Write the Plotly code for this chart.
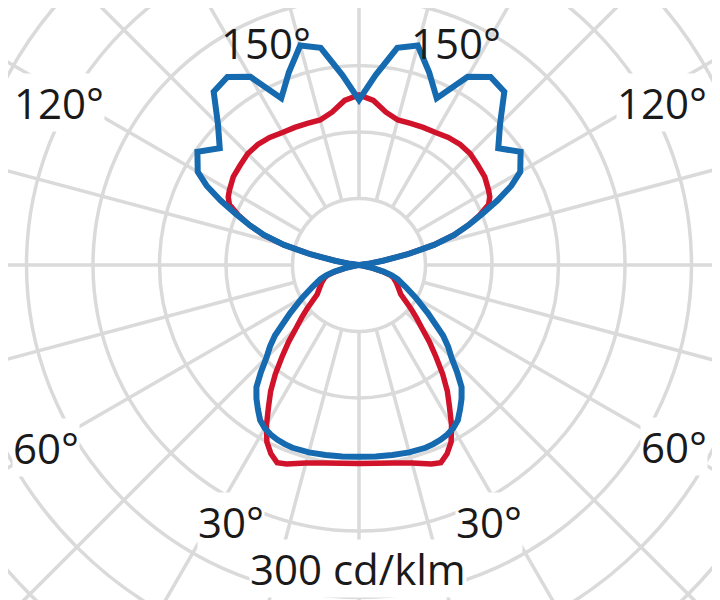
import math
import plotly.graph_objects as go

# ---- data (gamma angle from nadir in degrees, intensities in cd/klm) ----
gamma = [0, 5, 10, 15, 20, 22.5, 25, 27.5, 30, 32.5, 35, 37.5, 40, 42.5, 45, 47.5,
         50, 55, 60, 65, 70, 72.5, 75, 77.5, 80, 85, 90, 95, 97.5, 100, 102.5, 105,
         107.5, 110, 112.5, 115, 117.5, 120, 125, 130, 135, 140, 145, 150, 155, 160,
         165, 170, 175, 180]
red_vals = [179, 179.5, 181.5, 185, 191, 193, 188, 180, 167, 152, 139, 124, 108, 94, 80, 70,
            61, 46, 41, 37, 33, 29, 21, 12, 4, 0, 0, 0, 8, 22, 45, 70,
            90, 105, 118, 129, 133, 135, 138.5, 140, 142, 142, 140.5, 138, 137, 136,
            135.5, 140, 149, 153.5]
blue_vals = [173, 173.5, 174, 175, 175.5, 175, 174, 172.5, 170, 166, 159, 152, 144, 131, 118, 109,
             99, 76, 59, 46, 37, 31, 23, 13, 4, 0, 0, 0, 8, 22, 45, 70,
             90, 105, 120, 138, 155, 168, 178, 164, 180, 204, 207, 196, 166, 185,
             205, 199, 172, 149]

grid_radii = [60, 120, 180, 240, 300, 360, 420, 480]
grid_angles = list(range(0, 360, 15))

angle_labels = ["150°", "150°", "120°", "120°", "60°", "60°", "30°", "30°"]
scale_label = "300 cd/klm"

# ---- geometry (the page body adds an 8 px margin, so the figure is 8 px smaller) ----
OFF = 8
W, H = 720 - OFF, 600 - OFF
CX, CY = 359 - OFF, 265 - OFF      # pixel centre of the diagram inside the figure
PX_PER_UNIT = 66.5 / 60            # pixels per cd/klm
R_POLAR_PX = CY                    # radius of the polar subplot (pixels)

GRID = "rgb(218,218,218)"
BLUE = "rgb(22,106,176)"
RED = "rgb(208,18,42)"
FONT = dict(family="Open Sans", size=42, color="#1a1a1a")


def full_curve(vals):
    theta = list(gamma) + [360 - g for g in reversed(gamma)]
    r = list(vals) + list(reversed(vals))
    return theta, r


fig = go.Figure()

t_r, r_r = full_curve(red_vals)
t_b, r_b = full_curve(blue_vals)
fig.add_trace(go.Scatterpolar(theta=t_r, r=r_r, mode="lines",
                              line=dict(color=RED, width=5.5), hoverinfo="skip",
                              showlegend=False))
fig.add_trace(go.Scatterpolar(theta=t_b, r=r_b, mode="lines",
                              line=dict(color=BLUE, width=6), hoverinfo="skip",
                              showlegend=False))

# grid drawn on a cartesian frame sharing the same scale and centre
shapes = []
for rad in grid_radii:
    shapes.append(dict(type="circle", xref="x", yref="y", x0=-rad, y0=-rad, x1=rad, y1=rad,
                       line=dict(color=GRID, width=3.5), layer="below"))
r_in, r_out = grid_radii[0], grid_radii[-1] + 60
for a in grid_angles:
    s, c = math.sin(math.radians(a)), math.cos(math.radians(a))
    shapes.append(dict(type="line", xref="x", yref="y",
                       x0=r_in * s, y0=-r_in * c, x1=r_out * s, y1=-r_out * c,
                       line=dict(color=GRID, width=3.5), layer="below"))

# label centres in reference-picture pixels
label_px = [(266, 42), (456, 42), (59, 102), (662, 102), (46, 447), (674, 446), (231, 521), (489, 521)]
annotations = []
for txt, (px, py) in zip(angle_labels, label_px):
    annotations.append(dict(text=txt, x=(px - OFF) / W, y=1 - (py - OFF) / H,
                            xref="paper", yref="paper",
                            showarrow=False, xanchor="center", yanchor="middle", font=FONT,
                            bgcolor="white" if not txt.startswith("150") else None,
                            borderpad=0))
annotations.append(dict(text=scale_label, x=(358 - OFF) / W, y=1 - (568 - OFF) / H,
                        xref="paper", yref="paper",
                        showarrow=False, xanchor="center", yanchor="middle", font=FONT,
                        bgcolor="white", borderpad=0))

fig.update_layout(
    width=W, height=H, margin=dict(l=0, r=0, t=0, b=0),
    paper_bgcolor="white", plot_bgcolor="rgba(0,0,0,0)",
    showlegend=False,
    xaxis=dict(range=[-CX / PX_PER_UNIT, (W - CX) / PX_PER_UNIT], visible=False,
               domain=[0, 1], fixedrange=True),
    yaxis=dict(range=[-(H - CY) / PX_PER_UNIT, CY / PX_PER_UNIT], visible=False,
               domain=[0, 1], fixedrange=True),
    polar=dict(
        domain=dict(x=[(CX - R_POLAR_PX) / W, (CX + R_POLAR_PX) / W],
                    y=[(H - CY - R_POLAR_PX) / H, (H - CY + R_POLAR_PX) / H]),
        bgcolor="rgba(0,0,0,0)",
        radialaxis=dict(range=[0, R_POLAR_PX / PX_PER_UNIT], visible=False, showgrid=False),
        angularaxis=dict(rotation=-90, direction="counterclockwise", visible=False,
                         showgrid=False, showline=False),
    ),
    shapes=shapes,
    annotations=annotations,
)

fig.write_html("out.html")
